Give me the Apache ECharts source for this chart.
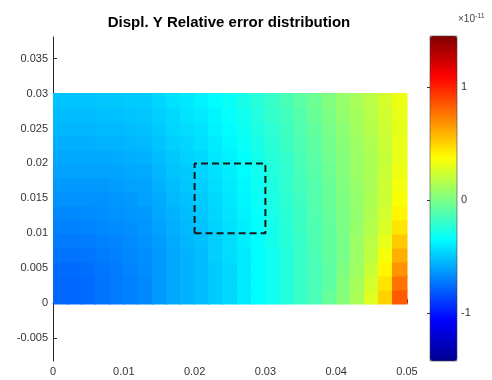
<!DOCTYPE html>
<html>
<head>
<meta charset="utf-8">
<script src="https://cdn.jsdelivr.net/npm/echarts@6/dist/echarts.min.js"></script>
<style>
  html, body { margin: 0; padding: 0; background: #fff; }
  #chart { width: 492px; height: 380px; }
</style>
</head>
<body>
<div id="chart"></div>
<script>
// Cell centres of the sampled field (metres)
const xCenters = [0.001, 0.003, 0.005, 0.007, 0.009, 0.011, 0.013, 0.015, 0.017, 0.019,
                  0.021, 0.023, 0.025, 0.027, 0.029, 0.031, 0.033, 0.035, 0.037, 0.039,
                  0.041, 0.043, 0.045, 0.047, 0.049];
const yCenters = [0.001, 0.003, 0.005, 0.007, 0.009, 0.011, 0.013, 0.015,
                  0.017, 0.019, 0.021, 0.023, 0.025, 0.027, 0.029];

// Relative error of the Y displacement (x 1e-11), one row per yCenters entry
const errorRows = [
  [-0.77,-0.77,-0.76,-0.74,-0.72,-0.70,-0.68,-0.63,-0.59,-0.56,-0.53,-0.49,-0.45,-0.40,-0.35,-0.30,-0.25,-0.19,-0.14,-0.06, 0.03, 0.13, 0.28, 0.50, 0.84],
  [-0.77,-0.77,-0.76,-0.74,-0.72,-0.70,-0.68,-0.63,-0.59,-0.56,-0.53,-0.49,-0.45,-0.40,-0.35,-0.30,-0.25,-0.19,-0.14,-0.08, 0.02, 0.12, 0.25, 0.45, 0.77],
  [-0.76,-0.76,-0.75,-0.73,-0.71,-0.69,-0.67,-0.63,-0.59,-0.56,-0.53,-0.49,-0.45,-0.40,-0.35,-0.30,-0.25,-0.19,-0.14,-0.08, 0.01, 0.10, 0.22, 0.40, 0.68],
  [-0.74,-0.74,-0.73,-0.72,-0.70,-0.68,-0.66,-0.63,-0.59,-0.56,-0.53,-0.48,-0.44,-0.40,-0.35,-0.30,-0.25,-0.19,-0.14,-0.07,-0.01, 0.09, 0.19, 0.35, 0.60],
  [-0.72,-0.72,-0.71,-0.70,-0.69,-0.67,-0.65,-0.62,-0.58,-0.55,-0.52,-0.48,-0.44,-0.39,-0.34,-0.29,-0.24,-0.19,-0.13,-0.07,-0.01, 0.09, 0.18, 0.31, 0.52],
  [-0.70,-0.70,-0.69,-0.68,-0.67,-0.66,-0.64,-0.61,-0.57,-0.54,-0.51,-0.47,-0.43,-0.39,-0.34,-0.29,-0.24,-0.18,-0.13,-0.07, 0.00, 0.08, 0.16, 0.27, 0.45],
  [-0.68,-0.68,-0.67,-0.66,-0.65,-0.64,-0.63,-0.59,-0.56,-0.53,-0.50,-0.46,-0.42,-0.38,-0.33,-0.28,-0.23,-0.18,-0.12,-0.06, 0.00, 0.07, 0.15, 0.25, 0.40],
  [-0.65,-0.65,-0.65,-0.65,-0.64,-0.63,-0.61,-0.58,-0.54,-0.52,-0.49,-0.45,-0.41,-0.37,-0.32,-0.27,-0.22,-0.17,-0.11,-0.05, 0.01, 0.07, 0.14, 0.23, 0.36],
  [-0.63,-0.63,-0.63,-0.63,-0.62,-0.61,-0.60,-0.56,-0.53,-0.50,-0.48,-0.44,-0.40,-0.36,-0.31,-0.26,-0.21,-0.16,-0.11,-0.05, 0.02, 0.08, 0.13, 0.23, 0.34],
  [-0.61,-0.61,-0.61,-0.61,-0.60,-0.59,-0.58,-0.55,-0.51,-0.49,-0.46,-0.43,-0.39,-0.35,-0.30,-0.25,-0.21,-0.15,-0.10,-0.04, 0.03, 0.09, 0.14, 0.22, 0.32],
  [-0.59,-0.59,-0.59,-0.59,-0.58,-0.57,-0.56,-0.53,-0.50,-0.47,-0.45,-0.41,-0.38,-0.34,-0.29,-0.24,-0.20,-0.14,-0.09,-0.03, 0.03, 0.09, 0.14, 0.21, 0.31],
  [-0.57,-0.57,-0.57,-0.56,-0.56,-0.55,-0.54,-0.51,-0.48,-0.46,-0.43,-0.40,-0.36,-0.32,-0.28,-0.23,-0.18,-0.13,-0.08,-0.02, 0.04, 0.10, 0.15, 0.22, 0.31],
  [-0.55,-0.55,-0.55,-0.54,-0.54,-0.53,-0.52,-0.49,-0.46,-0.44,-0.42,-0.38,-0.35,-0.31,-0.26,-0.22,-0.17,-0.12,-0.07,-0.01, 0.05, 0.11, 0.16, 0.23, 0.30],
  [-0.53,-0.53,-0.53,-0.52,-0.52,-0.51,-0.50,-0.48,-0.45,-0.42,-0.40,-0.37,-0.33,-0.30,-0.25,-0.20,-0.16,-0.11,-0.05, 0.00, 0.07, 0.12, 0.17, 0.24, 0.31],
  [-0.51,-0.51,-0.51,-0.50,-0.50,-0.49,-0.49,-0.46,-0.43,-0.41,-0.38,-0.35,-0.32,-0.28,-0.24,-0.19,-0.14,-0.09,-0.04, 0.02, 0.08, 0.13, 0.18, 0.25, 0.32]
];

// Dashed region of interest (x, y corners, closed)
const boxX = [0.02, 0.03, 0.03, 0.02, 0.02];
const boxY = [0.01, 0.01, 0.02, 0.02, 0.01];

// Axis ticks
const xTicks = [0, 0.01, 0.02, 0.03, 0.04, 0.05];
const yTicks = [-0.005, 0, 0.005, 0.01, 0.015, 0.02, 0.025, 0.03, 0.035];
const barTicks = [-1, 0, 1];

// Colour range of the colour bar (x 1e-11)
const colorMin = -1.42;
const colorMax = 1.45;
const jet = ['#00008f', '#0000ff', '#0080ff', '#00ffff', '#80ff80',
             '#ffff00', '#ff8000', '#ff0000', '#800000'];

const FONT = '"Liberation Sans", Arial, Helvetica, sans-serif';
const AX = '#262626';

const cells = [];
yCenters.forEach((y, j) => {
  xCenters.forEach((x, i) => cells.push([x, y, errorRows[j][i]]));
});
const halfW = (xCenters[1] - xCenters[0]) / 2;
const halfH = (yCenters[1] - yCenters[0]) / 2;

const chart = echarts.init(document.getElementById('chart'), null, { renderer: 'canvas' });

chart.setOption({
  animation: false,
  backgroundColor: '#fff',
  graphic: [
    {
      type: 'text', x: 229, y: 23, z: 20,
      style: {
        text: 'Displ. Y Relative error distribution',
        font: 'bold 15px ' + FONT, fill: '#000',
        align: 'center', verticalAlign: 'middle'
      }
    },
    {
      type: 'text', x: 458, y: 19, z: 20,
      style: {
        text: '×10{s|-11}',
        font: '10px ' + FONT, fill: '#444',
        align: 'left', verticalAlign: 'middle',
        rich: { s: { fontSize: 7, fontFamily: FONT, fill: '#444', verticalAlign: 'top', padding: [0, 0, 6, 0] } }
      }
    }
  ],
  grid: [
    { left: 53, top: 37, width: 354, height: 324 },
    { left: 430, top: 36, width: 27, height: 325, show: true, backgroundColor: 'transparent',
      borderColor: '#444', borderWidth: 0.6, z: 10 }
  ],
  xAxis: [
    {
      type: 'value', gridIndex: 0, min: 0, max: 0.05, interval: 0.01,
      axisLine: { lineStyle: { color: AX, width: 1 } },
      axisTick: { inside: true, length: 4, lineStyle: { color: AX } },
      axisLabel: { color: '#333', fontSize: 11, fontFamily: FONT, margin: 5,
                   customValues: xTicks },
      splitLine: { show: false }
    },
    { type: 'value', gridIndex: 1, min: 0, max: 1, show: false }
  ],
  yAxis: [
    {
      type: 'value', gridIndex: 0, min: -0.0083, max: 0.0381,
      axisLine: { show: true, lineStyle: { color: AX, width: 1 } },
      axisTick: { show: true, inside: true, length: 4, lineStyle: { color: AX }, customValues: yTicks },
      axisLabel: { color: '#333', fontSize: 11, fontFamily: FONT, margin: 5, customValues: yTicks },
      splitLine: { show: false }
    },
    {
      type: 'value', gridIndex: 1, position: 'right', min: colorMin, max: colorMax,
      axisLine: { show: false },
      axisTick: { show: true, inside: true, length: 3, lineStyle: { color: '#333' }, customValues: barTicks },
      axisLabel: { color: '#333', fontSize: 11, fontFamily: FONT, margin: 4, customValues: barTicks },
      splitLine: { show: false }
    }
  ],
  visualMap: {
    type: 'continuous', seriesIndex: 0, dimension: 2,
    min: colorMin, max: colorMax, calculable: false, hoverLink: false,
    orient: 'vertical', left: 430, top: 36, itemWidth: 27, itemHeight: 325,
    padding: 0, inRange: { color: jet }
  },
  series: [
    {
      type: 'custom', xAxisIndex: 0, yAxisIndex: 0, data: cells,
      encode: { x: 0, y: 1 }, silent: true,
      renderItem: function (params, api) {
        const x = api.value(0), y = api.value(1);
        const p0 = api.coord([x - halfW, y + halfH]);
        const p1 = api.coord([x + halfW, y - halfH]);
        const x0 = Math.floor(p0[0]), y0 = Math.floor(p0[1]);
        return {
          type: 'rect',
          shape: { x: x0, y: y0, width: Math.ceil(p1[0]) - x0 + 0.5, height: Math.ceil(p1[1]) - y0 + 0.5 },
          style: { fill: api.visual('color') }
        };
      }
    },
    {
      type: 'line', xAxisIndex: 0, yAxisIndex: 0, z: 5, silent: true,
      data: boxX.map((x, i) => [x, boxY[i]]),
      symbol: 'none',
      lineStyle: { color: '#1a1a1a', width: 2, type: [7, 4] },
      itemStyle: { color: '#1a1a1a' }
    }
  ]
});
</script>
</body>
</html>
